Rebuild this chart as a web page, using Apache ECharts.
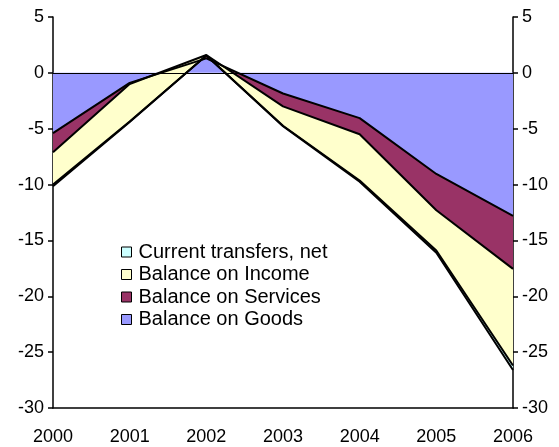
<!DOCTYPE html>
<html>
<head>
<meta charset="utf-8">
<script src="https://cdn.jsdelivr.net/npm/echarts@6/dist/echarts.min.js"></script>
<style>
  html, body { margin: 0; padding: 0; background: #fff; }
  #balanceChart { width: 559px; height: 447px; }
</style>
</head>
<body>
<div id="balanceChart"></div>
<script>
var years = ['2000', '2001', '2002', '2003', '2004', '2005', '2006']
var goods = [-5.4, -0.9, 1.3, -1.85, -4.05, -9.05, -12.8]
var services = [-1.7, -0.1, 0.3, -1.15, -1.45, -3.25, -4.75]
var income = [-2.9, -3.35, -0.05, -1.73, -4.14, -3.6, -8.65]
var transfers = [-0.15, -0.05, 0, -0.05, -0.1, -0.2, -0.4]
var legendOrder = ['Current transfers, net', 'Balance on Income', 'Balance on Services', 'Balance on Goods']

var chart = echarts.init(document.getElementById('balanceChart'))

function areaSeries (name, data, color) {
  return {
    name: name,
    type: 'line',
    stack: 'total',
    stackStrategy: 'all',
    symbol: 'none',
    data: data,
    itemStyle: { color: color, borderColor: '#000', borderWidth: 1 },
    lineStyle: { color: '#000', width: 2 },
    areaStyle: { color: color, opacity: 1 }
  }
}

var goodsSeries = areaSeries('Balance on Goods', goods, '#9999FF')
// baseline along zero, like the area outline in the original
goodsSeries.markLine = {
  silent: true,
  symbol: 'none',
  label: { show: false },
  lineStyle: { color: '#000', width: 1, type: 'solid' },
  data: [{ yAxis: 0 }]
}

var yAxisCommon = {
  type: 'value',
  min: -30,
  max: 5,
  interval: 5,
  splitLine: { show: false },
  axisLine: { show: true, lineStyle: { color: '#000', width: 1.5 } },
  axisTick: { show: true, length: 5, lineStyle: { color: '#000', width: 1.5 } },
  axisLabel: { color: '#000', fontSize: 18, fontFamily: 'Liberation Sans, Arial', margin: 9 }
}

chart.setOption({
  backgroundColor: '#fff',
  animation: false,
  grid: { left: 53, right: 46, top: 17, bottom: 39 },
  legend: {
    orient: 'vertical',
    left: 116,
    top: 236,
    data: legendOrder,
    icon: 'rect',
    itemWidth: 10,
    itemHeight: 10,
    itemGap: 0.5,
    itemStyle: { borderColor: '#000', borderWidth: 1 },
    textStyle: { color: '#000', fontSize: 20, lineHeight: 22, fontFamily: 'Liberation Sans, Arial', padding: [0, 0, 0, 2] }
  },
  xAxis: {
    type: 'category',
    data: years,
    boundaryGap: false,
    axisLine: { onZero: false, lineStyle: { color: '#000', width: 1.5 } },
    axisTick: { show: false },
    axisLabel: { color: '#000', fontSize: 18, fontFamily: 'Liberation Sans, Arial', margin: 20 }
  },
  yAxis: [
    Object.assign({}, yAxisCommon, { position: 'left' }),
    Object.assign({}, yAxisCommon, { position: 'right' })
  ],
  series: [
    goodsSeries,
    areaSeries('Balance on Services', services, '#993366'),
    areaSeries('Balance on Income', income, '#FFFFCC'),
    areaSeries('Current transfers, net', transfers, '#CCFFFF')
  ]
})

window.addEventListener('resize', function () {
  chart.resize()
})
</script>
</body>
</html>
